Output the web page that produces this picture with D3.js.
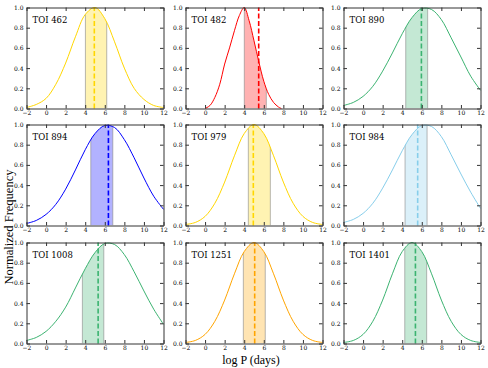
<!DOCTYPE html>
<html>
<head>
<meta charset="utf-8">
<script src="https://cdn.jsdelivr.net/npm/d3@7"></script>
<style>
  body { margin: 0; background: #fff; }
  svg { display: block; }
  text { font-family: "DejaVu Serif", serif; fill: #000; }
</style>
</head>
<body>
<svg id="chart" width="488" height="368"></svg>
<script>
// sample grid in log P (days)
var logP = [-2, -1, 0, 1, 2, 3, 4, 5, 6, 7, 8, 9, 10, 11, 12];
var logP482 = [0, 0.5, 1, 1.5, 2, 2.5, 3, 3.5, 4, 4.5, 5, 5.5, 6, 6.5, 7, 7.5, 7.8];

var toiNames = ["TOI 462", "TOI 482", "TOI 890", "TOI 894", "TOI 979", "TOI 984", "TOI 1008", "TOI 1251", "TOI 1401"];

// normalized frequency
var freq462  = [0.01, 0.04, 0.10, 0.24, 0.45, 0.71, 0.93, 1.00, 0.89, 0.66, 0.40, 0.20, 0.09, 0.03, 0.01];
var freq482  = [0.00, 0.03, 0.11, 0.24, 0.44, 0.60, 0.77, 0.92, 1.00, 0.87, 0.67, 0.46, 0.27, 0.14, 0.06, 0.015, 0.00];
var freq890  = [0.03, 0.06, 0.12, 0.22, 0.37, 0.55, 0.74, 0.90, 0.99, 0.98, 0.88, 0.70, 0.51, 0.32, 0.18];
var freq894  = [0.02, 0.05, 0.11, 0.21, 0.36, 0.55, 0.75, 0.91, 0.99, 0.97, 0.85, 0.67, 0.47, 0.29, 0.16];
var freq979  = [0.01, 0.03, 0.09, 0.22, 0.43, 0.69, 0.91, 1.00, 0.91, 0.69, 0.43, 0.22, 0.09, 0.03, 0.01];
var freq984  = [0.03, 0.06, 0.12, 0.22, 0.37, 0.55, 0.74, 0.90, 0.99, 0.98, 0.88, 0.70, 0.51, 0.33, 0.17];
var freq1008 = [0.03, 0.06, 0.12, 0.22, 0.36, 0.55, 0.74, 0.90, 0.99, 0.98, 0.88, 0.71, 0.52, 0.34, 0.19];
var freq1251 = [0.01, 0.03, 0.09, 0.22, 0.43, 0.69, 0.91, 1.00, 0.91, 0.69, 0.43, 0.22, 0.09, 0.03, 0.01];
var freq1401 = [0.01, 0.03, 0.09, 0.22, 0.43, 0.69, 0.91, 1.00, 0.91, 0.69, 0.43, 0.22, 0.09, 0.03, 0.01];

// dashed line and shaded range for each panel
var medianP = [4.93, 5.48, 5.96, 6.37, 4.93, 5.58, 5.32, 5.07, 5.35];
var rangeLo = [4.02, 4.01, 4.36, 4.57, 4.42, 4.29, 3.71, 3.91, 4.26];
var rangeHi = [6.20, 6.26, 6.60, 6.82, 6.67, 6.54, 5.90, 6.15, 6.50];

var xTicks = [-2, 0, 2, 4, 6, 8, 10, 12];
var yTicks = [0, 0.2, 0.4, 0.6, 0.8, 1.0];

var colors = ["#FFD700", "#FF0000", "#3CB371", "#0000FF", "#FFD700", "#87CEEB", "#3CB371", "#FFA500", "#3CB371"];

var xGrids = [logP, logP482, logP, logP, logP, logP, logP, logP, logP];
var freqs = [freq462, freq482, freq890, freq894, freq979, freq984, freq1008, freq1251, freq1401];

var panels = toiNames.map(function(name, i) {
  return {
    name: name,
    points: xGrids[i].map(function(x, j) { return [x, freqs[i][j]]; }),
    median: medianP[i],
    lo: rangeLo[i],
    hi: rangeHi[i],
    color: colors[i]
  };
});

var colLeft = [26, 185, 343],
    rowTop = [7, 124, 242],
    w = 137,
    h = 101;

var x = d3.scaleLinear().domain([-2, 12]).range([0, w]);
var y = d3.scaleLinear().domain([0, 1]).range([h, 0]);

var svg = d3.select("#chart");

var line = d3.line()
  .curve(d3.curveCatmullRom)
  .x(function(d) { return x(d[0]); })
  .y(function(d) { return y(d[1]); });

var area = d3.area()
  .curve(d3.curveCatmullRom)
  .x(function(d) { return x(d[0]); })
  .y0(y(0))
  .y1(function(d) { return y(d[1]); });

var g = svg.selectAll(".panel")
  .data(panels)
  .enter()
  .append("g")
  .attr("class", "panel")
  .attr("transform", function(d, i) {
    return "translate(" + (colLeft[i % 3] + 0.5) + "," + (rowTop[Math.floor(i / 3)] + 0.5) + ")";
  });

// clip to the area under each curve
g.append("clipPath")
  .attr("id", function(d, i) { return "under" + i; })
  .append("path")
  .attr("d", function(d) { return area(d.points); });

var shade = g.append("g")
  .attr("clip-path", function(d, i) { return "url(#under" + i + ")"; });

shade.append("rect")
  .attr("x", function(d) { return x(d.lo); })
  .attr("width", function(d) { return x(d.hi) - x(d.lo); })
  .attr("y", y(1))
  .attr("height", y(0) - y(1))
  .attr("fill", function(d) { return d.color; })
  .attr("fill-opacity", 0.3);

shade.selectAll(".edge")
  .data(function(d) { return [d.lo, d.hi]; })
  .enter()
  .append("line")
  .attr("class", "edge")
  .attr("x1", function(v) { return x(v); })
  .attr("x2", function(v) { return x(v); })
  .attr("y1", y(0))
  .attr("y2", y(1))
  .attr("stroke", "#888")
  .attr("stroke-opacity", 0.6)
  .attr("stroke-width", 1);

g.append("path")
  .attr("d", function(d) { return line(d.points); })
  .attr("fill", "none")
  .attr("stroke", function(d) { return d.color; })
  .attr("stroke-width", 1);

g.append("line")
  .attr("x1", function(d) { return x(d.median); })
  .attr("x2", function(d) { return x(d.median); })
  .attr("y1", y(0))
  .attr("y2", y(1))
  .attr("stroke", function(d) { return d.color; })
  .attr("stroke-width", 1.6)
  .attr("stroke-dasharray", "5,2.5");

// axes with inward ticks on all four sides
var fmtY = d3.format(".1f");

g.append("g")
  .attr("transform", "translate(0," + h + ")")
  .call(d3.axisBottom(x).tickValues(xTicks).tickSize(-3.5).tickSizeOuter(0).tickPadding(2));
g.append("g")
  .call(d3.axisTop(x).tickValues(xTicks).tickSize(-3.5).tickSizeOuter(0).tickFormat(""));
g.append("g")
  .call(d3.axisLeft(y).tickValues(yTicks).tickSize(-3.5).tickSizeOuter(0).tickPadding(3).tickFormat(fmtY));
g.append("g")
  .attr("transform", "translate(" + w + ",0)")
  .call(d3.axisRight(y).tickValues(yTicks).tickSize(-3.5).tickSizeOuter(0).tickFormat(""));

g.selectAll(".domain").attr("stroke", "#333");
g.selectAll(".tick line").attr("stroke", "#333");
g.selectAll(".tick text")
  .style("font-family", "'DejaVu Serif', serif")
  .style("font-size", "6px");

g.append("text")
  .attr("x", 6)
  .attr("y", 15.5)
  .style("font-size", "8.5px")
  .text(function(d) { return d.name; });

svg.append("text")
  .attr("x", 251)
  .attr("y", 364)
  .attr("text-anchor", "middle")
  .style("font-family", "'Liberation Serif', serif")
  .style("font-size", "12px")
  .text("log P (days)");

svg.append("text")
  .attr("transform", "translate(13,227) rotate(-90)")
  .attr("text-anchor", "middle")
  .style("font-family", "'Liberation Serif', serif")
  .style("font-size", "12.5px")
  .text("Normalized Frequency");
</script>
</body>
</html>
